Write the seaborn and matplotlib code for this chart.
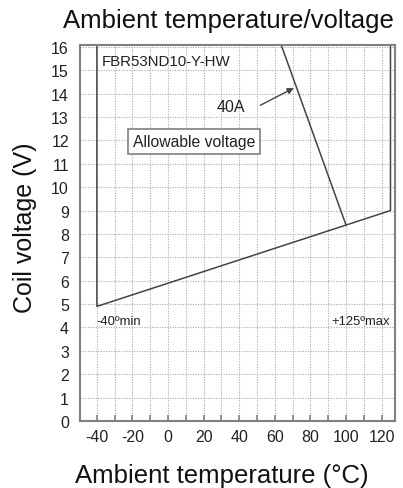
import matplotlib
matplotlib.use("Agg")
import matplotlib.pyplot as plt
import seaborn as sns
import pandas as pd
import numpy as np

# Data
boundary_temp = [-40, -40, 125, 125]
boundary_volt = [16.1, 4.9, 9.0, 16.1]
limit_40a_temp = [63.5, 100]
limit_40a_volt = [16.1, 8.38]
x_ticks = [-40, -20, 0, 20, 40, 60, 80, 100, 120]
y_ticks = list(range(0, 17))
title = "Ambient temperature/voltage"
xlabel = "Ambient temperature (°C)"
ylabel = "Coil voltage (V)"

sns.set_theme(style="white")
plt.rcParams['font.family'] = ['Liberation Sans', 'DejaVu Sans']
plt.rcParams['axes.unicode_minus'] = False

fig = plt.figure(figsize=(4.03, 4.89), dpi=100)
ax = fig.add_axes([0.1985, 0.137, 0.7815, 0.769])

df_b = pd.DataFrame({"t": boundary_temp, "v": boundary_volt})
df_l = pd.DataFrame({"t": limit_40a_temp, "v": limit_40a_volt})
sns.lineplot(data=df_b, x="t", y="v", sort=False, ax=ax, color="#444444", lw=1.1, estimator=None)
sns.lineplot(data=df_l, x="t", y="v", sort=False, ax=ax, color="#444444", lw=1.1, estimator=None)

ax.set_xlim(-49.5, 127.5)
ax.set_ylim(0, 16.08)
ax.set_xticks(x_ticks)
ax.set_xticks(np.arange(-40, 130, 10), minor=True)
ax.set_yticks(y_ticks)
dot = (0, (1, 1.3))
ax.grid(which="minor", axis="x", color="#aaaaaa", ls=dot, lw=0.8)
ax.grid(which="major", axis="y", color="#aaaaaa", ls=dot, lw=0.8)
ax.grid(which="major", axis="x", color="#aaaaaa", ls=dot, lw=0.8)
ax.set_axisbelow(True)

for s in ax.spines.values():
    s.set_color("#808080")
    s.set_linewidth(1.5)

ax.tick_params(axis="x", which="both", direction="in", length=4, width=1.2, color="#808080",
               labelsize=11.5, labelcolor="#222222", pad=6, bottom=True)
ax.tick_params(axis="y", which="both", direction="in", length=0, labelsize=11.5,
               labelcolor="#222222", pad=8, left=True)

ax.set_xlabel(xlabel, fontsize=18.5, color="#111111", va="baseline")
ax.xaxis.set_label_coords(0.451, -0.162)
ax.set_ylabel(ylabel, fontsize=18, color="#111111", va="center")
ax.yaxis.set_label_coords(-0.175, 0.516)
fig.text(0.566, 1 - 28 / 489, title, fontsize=18.5, color="#111111", ha="center", va="baseline")

ax.text(-37.3, 15.4, "FBR53ND10-Y-HW", fontsize=10.8, color="#222222", va="center", ha="left")
ax.text(27.5, 13.45, "40A", fontsize=11.5, color="#222222", va="center", ha="left")
ax.annotate("", xy=(72, 14.29), xytext=(50.5, 13.45),
            arrowprops=dict(arrowstyle="-|>", color="#444444", lw=1.0, mutation_scale=9))
ax.text(14.5, 11.96, "Allowable voltage", fontsize=11.3, color="#222222", va="center", ha="center",
        bbox=dict(boxstyle="square,pad=0.3", fc="white", ec="#808080", lw=1.2))
ax.text(-40.3, 4.28, "-40ºmin", fontsize=9.4, color="#222222", va="center", ha="left")
ax.text(124.5, 4.28, "+125ºmax", fontsize=9.4, color="#222222", va="center", ha="right")

fig.savefig("out.png", dpi=100)
